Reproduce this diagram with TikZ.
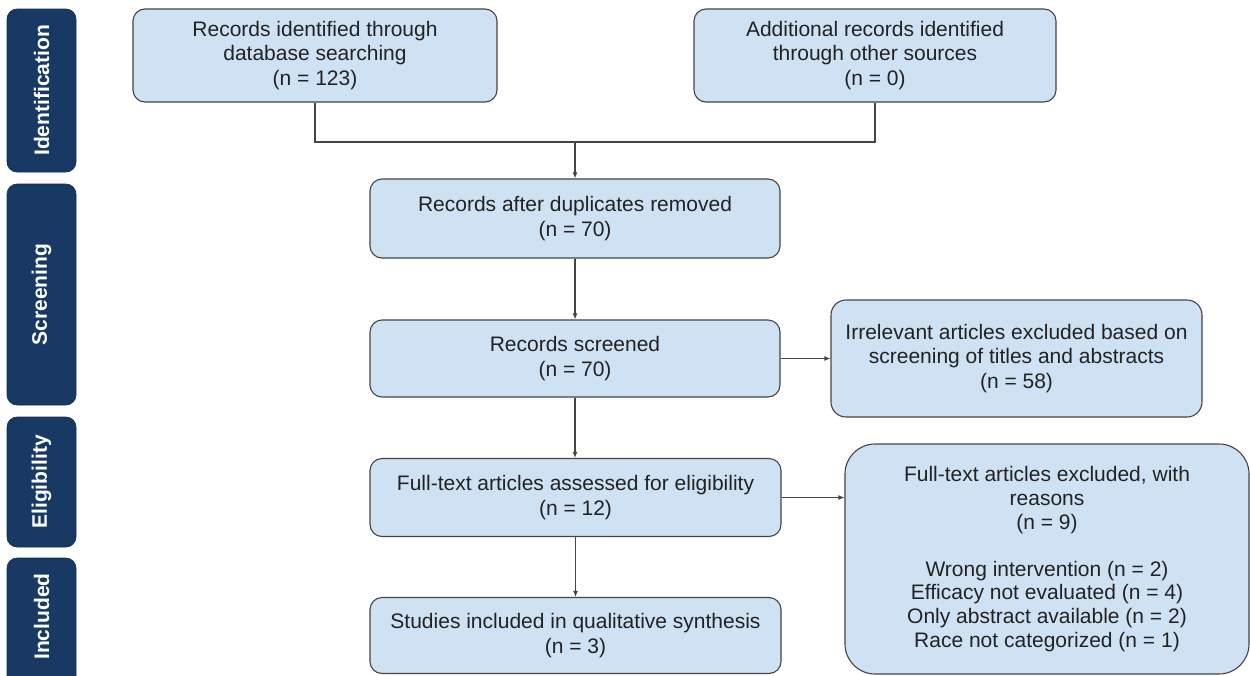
\documentclass[tikz,border=0pt]{standalone}
\usepackage{fontspec}
\setmainfont{Liberation Sans}
\usetikzlibrary{arrows.meta}
\definecolor{boxfill}{HTML}{CFE2F3}
\definecolor{boxline}{HTML}{444444}
\definecolor{navy}{RGB}{23,57,99}
\definecolor{txt}{HTML}{222222}
\tikzset{
  flowbox/.style={draw=boxline, fill=boxfill, line width=1.1pt, rounded corners=12pt,
    inner sep=0pt, align=center, text=txt,
    font=\fontsize{21}{24.3}\selectfont},
  phase/.style={fill=navy, draw=navy!80!black, line width=0.6pt, rounded corners=10pt,
    inner sep=0pt, minimum width=69pt, text=white,
    font=\fontsize{21}{24}\selectfont\bfseries},
  phasetext/.style={rotate=90, text=white, font=\fontsize{21}{24}\selectfont\bfseries},
  conn/.style={draw=boxline, line width=1.1pt},
  arr/.style={conn, -{Latex[length=6pt,width=5pt]}}
}
\begin{document}
\begin{tikzpicture}[x=1pt,y=-1pt]
\clip (0,0) rectangle (1250,675);
\fill[white] (0,0) rectangle (1250,675);

% phase labels
\node[phase, minimum height=163pt] (pid) at (41.5,90.5) {};
\node[phasetext] (tid) at (pid.center) {Identification};
\node[phase, minimum height=221pt] (psc) at (41.5,294.5) {};
\node[phasetext] (tsc) at (psc.center) {Screening};
\node[phase, minimum height=130pt] (pel) at (41.5,482) {};
\node[phasetext] (tel) at (pel.center) {Eligibility};
\node[phase, minimum height=130pt] (pin) at (41.5,623) {};
\node[phasetext] (tin) at (41.5,616.5) {Included};

% boxes
\node[flowbox, minimum width=364pt, minimum height=93pt] (b1) at (315,55.5)
  {Records identified through\\database searching\\(n = 123)};
\node[flowbox, minimum width=362pt, minimum height=93pt] (b2) at (875,55.5)
  {Additional records identified\\through other sources\\(n = 0)};
\node[flowbox, minimum width=410pt, minimum height=79pt] (b3) at (575,218.5)
  {Records after duplicates removed\\(n = 70)};
\node[flowbox, minimum width=410pt, minimum height=77pt] (b4) at (575,358.5)
  {Records screened\\(n = 70)};
\node[flowbox, minimum width=371pt, minimum height=117pt, rounded corners=15pt] (b5) at (1016.5,358.5)
  {Irrelevant articles excluded based on\\screening of titles and abstracts\\(n = 58)};
\node[flowbox, minimum width=411pt, minimum height=78pt] (b6) at (575.5,497.5)
  {Full-text articles assessed for eligibility\\(n = 12)};
\node[flowbox, minimum width=411pt, minimum height=76pt] (b7) at (575.5,635.5)
  {Studies included in qualitative synthesis\\(n = 3)};
\node[flowbox, minimum width=404pt, minimum height=230pt, rounded corners=30pt,
  font=\fontsize{21}{23.6}\selectfont] (b8) at (1047,559)
  {Full-text articles excluded, with\\reasons\\(n = 9)\\[23.6pt]Wrong intervention (n = 2)\\Efficacy not evaluated (n = 4)\\Only abstract available (n = 2)\\Race not categorized (n = 1)};

% connectors
\coordinate (j) at (575,142);
\draw[conn] (b1.south) |- (j) -| (b2.south);
\draw[arr] (j) -- (b3.north);
\draw[arr] (b3.south) -- (b4.north);
\draw[arr] (b4.east) -- (b5.west);
\draw[arr] (b4.south) -- (b6.north -| b4.south);
\draw[arr] (b6.east) -- (b8.west |- b6.east);
\draw[arr] (b6.south) -- (b7.north);
\end{tikzpicture}
\end{document}
